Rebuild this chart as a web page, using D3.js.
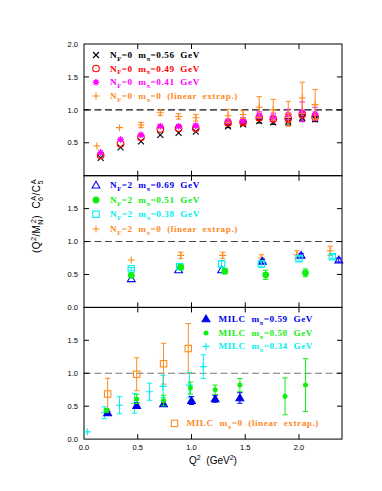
<!DOCTYPE html>
<html>
<head>
<meta charset="utf-8">
<script src="https://d3js.org/d3.v7.min.js"></script>
<style>
body { margin: 0; background: #fff; }
text { white-space: pre; }
.tick { font-family: "Liberation Sans", Arial, sans-serif; font-size: 7.5px; fill: #000; }
.leg { font-family: "Liberation Serif", "Times New Roman", serif; font-weight: bold; font-size: 9.2px; letter-spacing: 0.55px; }
.lab { font-family: "Liberation Sans", Arial, sans-serif; font-size: 10px; fill: #000; }
</style>
</head>
<body>
<svg width=382 height=491></svg>
<script>
// ---- data ----
// panel 1 : quenched (N_F=0)
var q2_nf0 = [0.155, 0.34, 0.53, 0.71, 0.88, 1.04, 1.34, 1.48, 1.63, 1.76, 1.90, 2.03, 2.15];
var nf0_m56 = [0.27, 0.43, 0.52, 0.62, 0.65, 0.67, 0.75, 0.78, 0.83, 0.81, 0.82, 0.88, 0.86];
var nf0_m56_err = [0, 0, 0, 0, 0, 0, 0.02, 0.02, 0.03, 0.03, 0.05, 0.05, 0.04];
var nf0_m49 = [0.31, 0.485, 0.585, 0.71, 0.72, 0.72, 0.80, 0.81, 0.88, 0.86, 0.87, 0.93, 0.89];
var nf0_m49_err = [0, 0, 0, 0, 0, 0, 0.03, 0.03, 0.04, 0.04, 0.06, 0.05, 0.05];
var nf0_m41 = [0.35, 0.55, 0.62, 0.75, 0.75, 0.76, 0.83, 0.84, 0.92, 0.89, 0.93, 0.97, 0.94];
var nf0_m41_err = [0, 0, 0, 0.02, 0.02, 0.02, 0.03, 0.04, 0.05, 0.06, 0.08, 0.15, 0.10];
var q2_nf0_ex = [0.12, 0.33, 0.53, 0.71, 0.88, 1.04, 1.34, 1.48, 1.63, 1.76, 1.90, 2.03, 2.15];
var nf0_m0 = [0.45, 0.73, 0.77, 0.955, 0.90, 0.88, 0.91, 0.93, 1.04, 1.00, 0.94, 1.18, 1.08];
var nf0_m0_err = [0, 0, 0.04, 0.04, 0.04, 0.05, 0.10, 0.06, 0.16, 0.16, 0.19, 0.24, 0.23];

// panel 2 : dynamical Wilson (N_F=2)
var q2_nf2_m69 = [0.44, 0.88, 1.28, 1.66, 2.02, 2.37];
var nf2_m69 = [0.435, 0.57, 0.57, 0.70, 0.79, 0.72];
var nf2_m69_err = [0, 0, 0, 0.03, 0.03, 0.03];
var q2_nf2_m51 = [0.44, 0.90, 1.31, 1.69, 2.06];
var nf2_m51 = [0.485, 0.61, 0.55, 0.495, 0.525];
var nf2_m51_err = [0.02, 0.03, 0.04, 0.07, 0.06];
var q2_nf2_m38 = [0.44, 0.89, 1.28, 1.65, 2.00, 2.31];
var nf2_m38 = [0.585, 0.62, 0.66, 0.66, 0.74, 0.77];
var nf2_m38_err = [0.02, 0.02, 0.05, 0.05, 0.04, 0.03];
var q2_nf2_m0 = [0.44, 0.90, 1.29, 1.65, 1.98, 2.29];
var nf2_m0 = [0.72, 0.79, 0.79, 0.75, 0.80, 0.86];
var nf2_m0_err = [0, 0.05, 0.05, 0.05, 0.06, 0.07];

// panel 3 : MILC
var q2_milc_m59 = [0.22, 0.49, 0.74, 1.00, 1.22, 1.45];
var milc_m59 = [0.40, 0.51, 0.535, 0.585, 0.61, 0.625];
var milc_m59_err = [0.02, 0.04, 0.04, 0.06, 0.05, 0.08];
var q2_milc_m50 = [0.21, 0.49, 0.74, 0.99, 1.22, 1.45, 1.87, 2.06];
var milc_m50 = [0.435, 0.61, 0.585, 0.775, 0.75, 0.82, 0.65, 0.82];
var milc_m50_err = [0.03, 0.07, 0.08, 0.09, 0.07, 0.10, 0.28, 0.40];
var q2_milc_m34 = [0.03, 0.19, 0.33, 0.47, 0.61, 0.735, 0.98, 1.11];
var milc_m34 = [0.11, 0.40, 0.515, 0.545, 0.72, 0.80, 0.82, 1.10];
var milc_m34_err = [0, 0.09, 0.13, 0.15, 0.13, 0.17, 0.19, 0.18];
var q2_milc_m0 = [0.22, 0.49, 0.74, 0.97];
var milc_m0 = [0.685, 0.985, 1.145, 1.375];
var milc_m0_err = [0.24, 0.25, 0.31, 0.38];

var xTicks = [0, 0.5, 1.0, 1.5, 2.0];
var yTicks = [[0.5, 1.0, 1.5, 2.0], [0, 0.5, 1.0, 1.5], [0, 0.5, 1.0, 1.5]];

// ---- layout ----
var left = 84, right = 342;
var tops = [44, 175.7, 307.4];
var ph = 131.7;

var orange = "#ff8a1e", red = "#ff0000", mag = "#ff00ff",
    blue = "#0000ee", green = "#11ee11", cyan = "#00f0f0";

var svg = d3.select("svg");
var x = d3.scaleLinear().domain([0, 2.4]).range([left, right]);

function sub(t) { return {t: t, s: 1}; }

// text with sub/superscripts; parts: string or {t, s:1 sub, s:-1 sup, back:true to stack}
function rich(g, parts, fs) {
  var shift = 0;
  parts.forEach(function(p) {
    if (typeof p == "string") p = {t: p, s: 0};
    var target = p.s == 1 ? fs * 0.3 : (p.s == -1 ? -fs * 0.4 : 0);
    var ts = g.append("tspan").text(p.t).attr("dy", target - shift);
    if (p.s != 0) ts.style("font-size", (fs * 0.7) + "px");
    if (p.back) ts.attr("dx", -fs * 0.4);
    shift = target;
  });
}

function marker(g, type, col, cx, cy) {
  if (type == "x") {
    g.append("path").attr("d", "M" + (cx - 3) + "," + (cy - 3) + "L" + (cx + 3) + "," + (cy + 3) +
      "M" + (cx - 3) + "," + (cy + 3) + "L" + (cx + 3) + "," + (cy - 3))
      .attr("stroke", col).attr("stroke-width", 1.1);
  } else if (type == "plus") {
    g.append("path").attr("d", "M" + (cx - 3.5) + "," + cy + "H" + (cx + 3.5) + "M" + cx + "," + (cy - 3.5) + "V" + (cy + 3.5))
      .attr("stroke", col).attr("stroke-width", 1.1);
  } else if (type == "star") {
    var d = "";
    [0, 45, 90, 135].forEach(function(a) {
      var r = a * Math.PI / 180, dx = 3.3 * Math.cos(r), dy = 3.3 * Math.sin(r);
      d += "M" + (cx - dx) + "," + (cy - dy) + "L" + (cx + dx) + "," + (cy + dy);
    });
    g.append("path").attr("d", d).attr("stroke", col).attr("stroke-width", 1.3);
    g.append("circle").attr("cx", cx).attr("cy", cy).attr("r", 1.8).attr("fill", col);
  } else if (type == "circle") {
    g.append("circle").attr("cx", cx).attr("cy", cy).attr("r", 3.3).attr("fill", "none").attr("stroke", col).attr("stroke-width", 1.1);
  } else if (type == "dot") {
    g.append("circle").attr("cx", cx).attr("cy", cy).attr("r", 3.4).attr("fill", col);
  } else if (type == "smalldot") {
    g.append("circle").attr("cx", cx).attr("cy", cy).attr("r", 2.5).attr("fill", col);
  } else if (type == "tri" || type == "trifill") {
    g.append("path").attr("d", d3.symbol().type(d3.symbolTriangle).size(26)())
      .attr("transform", "translate(" + cx + "," + (cy + 0.6) + ")")
      .attr("fill", type == "trifill" ? col : "none").attr("stroke", col).attr("stroke-width", 1.1);
  } else if (type == "square") {
    g.append("rect").attr("x", cx - 3.2).attr("y", cy - 3.2).attr("width", 6.4).attr("height", 6.4)
      .attr("fill", "none").attr("stroke", col).attr("stroke-width", 1.1);
  }
}

function series(g, y, xs, ys, es, type, col) {
  xs.forEach(function(q, i) {
    var cx = x(q), cy = y(ys[i]);
    if (es[i] > 0) {
      var y1 = y(ys[i] + es[i]), y2 = y(ys[i] - es[i]);
      g.append("path").attr("d", "M" + cx + "," + y1 + "V" + y2 +
        "M" + (cx - 2.7) + "," + y1 + "H" + (cx + 2.7) + "M" + (cx - 2.7) + "," + y2 + "H" + (cx + 2.7))
        .attr("stroke", col).attr("stroke-width", 1).attr("fill", "none");
    }
    marker(g, type, col, cx, cy);
  });
}

function legendRow(g, lx, tx, ly, type, col, parts) {
  marker(g, type, col, lx, ly);
  var t = g.append("text").attr("class", "leg").attr("x", tx).attr("y", ly + 3).attr("fill", col);
  rich(t, parts, 9.2);
}

var panels = [];
tops.forEach(function(top, k) {
  var y = d3.scaleLinear().domain([0, 2]).range([top + ph, top]);
  var g = svg.append("g");
  panels.push({g: g, y: y});
  // dashed line at 1
  g.append("line").attr("x1", left).attr("x2", right).attr("y1", y(1)).attr("y2", y(1))
    .attr("stroke", ["#111", "#444", "#777"][k]).attr("stroke-width", 1.1).attr("stroke-dasharray", "7,3.5");
  // frame
  g.append("rect").attr("x", left).attr("y", top).attr("width", right - left).attr("height", ph)
    .attr("fill", "none").attr("stroke", "#000").attr("stroke-width", 1);
  // ticks inward
  xTicks.slice(1).forEach(function(v) {
    g.append("path").attr("d", "M" + x(v) + "," + top + "v5M" + x(v) + "," + (top + ph) + "v-5").attr("stroke", "#000");
  });
  [0.5, 1.0, 1.5].forEach(function(v) {
    g.append("path").attr("d", "M" + left + "," + y(v) + "h5M" + right + "," + y(v) + "h-5").attr("stroke", "#000");
  });
  yTicks[k].forEach(function(v) {
    g.append("text").attr("class", "tick").attr("x", left - 6).attr("y", y(v) + 2.7)
      .attr("text-anchor", "end").text(d3.format(".1f")(v));
  });
});

// x tick labels
xTicks.forEach(function(v) {
  svg.append("text").attr("class", "tick").attr("x", x(v)).attr("y", 449.5)
    .attr("text-anchor", "middle").text(d3.format(".1f")(v));
});

// panel 1
var p = panels[0];
series(p.g, p.y, q2_nf0, nf0_m56, nf0_m56_err, "x", "#000");
series(p.g, p.y, q2_nf0, nf0_m49, nf0_m49_err, "circle", red);
series(p.g, p.y, q2_nf0, nf0_m41, nf0_m41_err, "star", mag);
series(p.g, p.y, q2_nf0_ex, nf0_m0, nf0_m0_err, "plus", orange);
var t0 = tops[0];
legendRow(p.g, 96, 110, t0 + 11, "x", "#000", ["N", sub("F"), "=0  m", sub("π"), "=0.56  GeV"]);
legendRow(p.g, 96, 110, t0 + 24.5, "circle", red, ["N", sub("F"), "=0  m", sub("π"), "=0.49  GeV"]);
legendRow(p.g, 96, 110, t0 + 38.3, "star", mag, ["N", sub("F"), "=0  m", sub("π"), "=0.41  GeV"]);
legendRow(p.g, 96, 110, t0 + 52, "plus", orange, ["N", sub("F"), "=0  m", sub("π"), "=0  (linear  extrap.)"]);

// panel 2
p = panels[1];
series(p.g, p.y, q2_nf2_m0, nf2_m0, nf2_m0_err, "plus", orange);
series(p.g, p.y, q2_nf2_m69, nf2_m69, nf2_m69_err, "tri", blue);
series(p.g, p.y, q2_nf2_m38, nf2_m38, nf2_m38_err, "square", cyan);
series(p.g, p.y, q2_nf2_m51, nf2_m51, nf2_m51_err, "dot", green);
var t1 = tops[1];
legendRow(p.g, 96, 110, t1 + 9.5, "tri", blue, ["N", sub("F"), "=2  m", sub("π"), "=0.69  GeV"]);
legendRow(p.g, 96, 110, t1 + 24.3, "dot", green, ["N", sub("F"), "=2  m", sub("π"), "=0.51  GeV"]);
legendRow(p.g, 96, 110, t1 + 38.5, "square", cyan, ["N", sub("F"), "=2  m", sub("π"), "=0.38  GeV"]);
legendRow(p.g, 96, 110, t1 + 53.3, "plus", orange, ["N", sub("F"), "=2  m", sub("π"), "=0  (linear  extrap.)"]);

// panel 3
p = panels[2];
series(p.g, p.y, q2_milc_m0, milc_m0, milc_m0_err, "square", orange);
series(p.g, p.y, q2_milc_m34, milc_m34, milc_m34_err, "plus", cyan);
series(p.g, p.y, q2_milc_m59, milc_m59, milc_m59_err, "trifill", blue);
series(p.g, p.y, q2_milc_m50, milc_m50, milc_m50_err, "smalldot", green);
var t2 = tops[2];
legendRow(p.g, 206, 218.5, t2 + 11.5, "trifill", blue, ["MILC  m", sub("π"), "=0.59  GeV"]);
legendRow(p.g, 206, 218.5, t2 + 25.5, "smalldot", green, ["MILC  m", sub("π"), "=0.50  GeV"]);
legendRow(p.g, 206, 218.5, t2 + 39, "plus", cyan, ["MILC  m", sub("π"), "=0.34  GeV"]);
legendRow(p.g, 174.5, 186.5, t2 + 116, "square", orange, ["MILC  m", sub("π"), "=0  (linear  extrap.)"]);

// axis labels
var xl = svg.append("text").attr("class", "lab").attr("x", 213).attr("y", 464).attr("text-anchor", "middle");
rich(xl, ["Q", {t: "2", s: -1}, "  (GeV", {t: "2", s: -1}, ")"], 10);

var yl = svg.append("text").attr("class", "lab").attr("text-anchor", "middle")
  .attr("transform", "translate(40,216) rotate(-90)").style("letter-spacing", "0.4px");
rich(yl, ["(Q", {t: "2", s: -1}, "/M", {t: "N", s: 1}, {t: "2", s: -1, back: true}, ")  C",
  {t: "6", s: 1}, {t: "A", s: -1, back: true}, "/C", {t: "5", s: 1}, {t: "A", s: -1, back: true}], 10.5);
</script>
</body>
</html>
